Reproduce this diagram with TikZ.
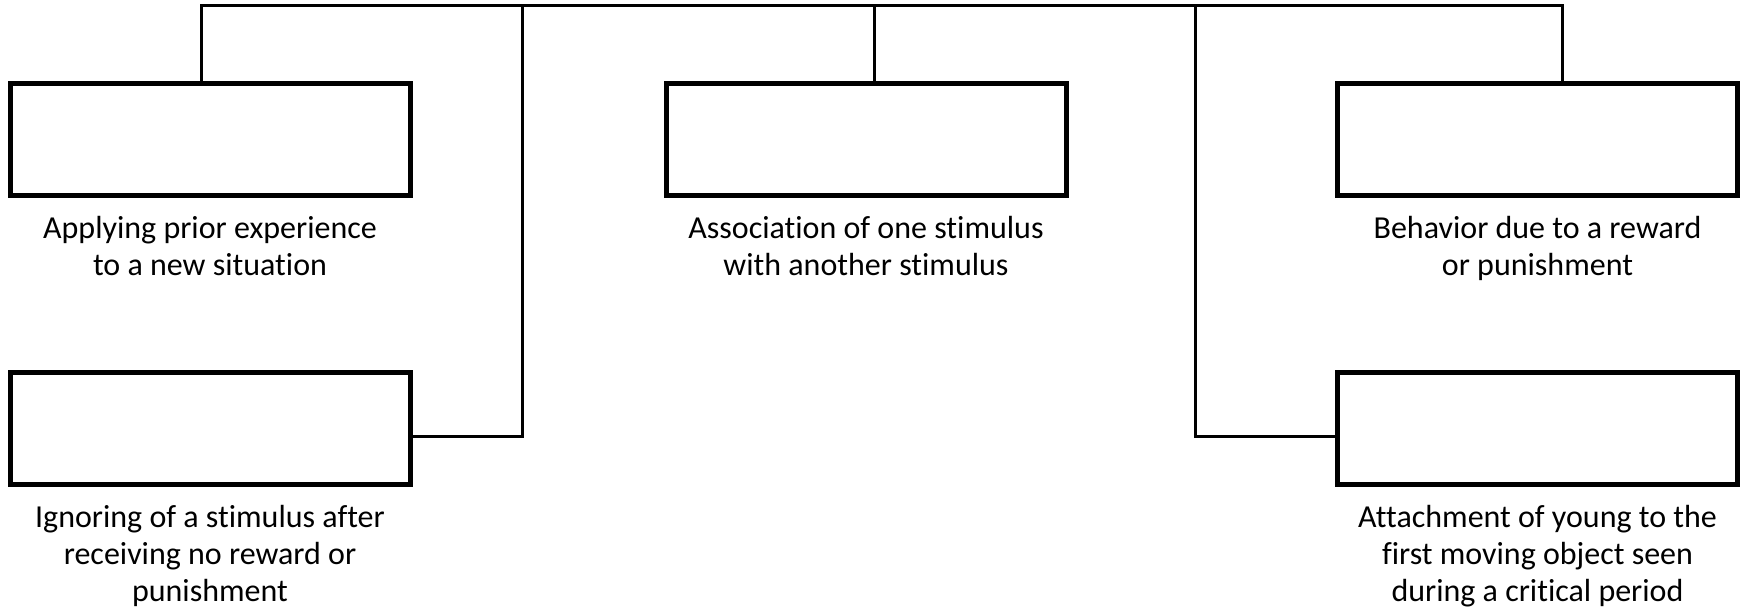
\documentclass[tikz,border=0pt]{standalone}
\usepackage{fontspec}
\setmainfont{Carlito}[Ligatures=NoCommon]
\usetikzlibrary{positioning}

\begin{document}
\begin{tikzpicture}[x=0.5pt,y=-0.5pt,
    box/.style={draw,line width=2.5pt,minimum width=200pt,minimum height=56pt,inner sep=0pt},
    link/.style={line width=1.5pt},
    note/.style={align=center,inner sep=0pt,font=\fontsize{16}{18.5}\selectfont}
   ]
\useasboundingbox (0,0) rectangle (1744,611);
\node[box] (prior)  at (210,139) {};
\node[box] (assoc)  at (866,139) {};
\node[box] (reward) at (1537.5,139) {};
\node[box] (ignore) at (210,428.5) {};
\node[box] (attach) at (1537.5,428.5) {};

\node[note,below=9pt of prior]  (priortxt)  {Applying prior experience\\to a new situation};
\node[note,below=9pt of assoc]  (assoctxt)  {Association of one stimulus\\with another stimulus};
\node[note,below=9pt of reward] (rewardtxt) {Behavior due to a reward\\or punishment};
\node[note,below=9pt of ignore] (ignoretxt) {Ignoring of a stimulus after\\receiving no reward or\\punishment};
\node[note,below=9pt of attach] (attachtxt) {Attachment of young to the\\first moving object seen\\during a critical period};

\coordinate (top1) at (201,5.5);
\coordinate (top2) at (522,5.5);
\coordinate (top3) at (874,5.5);
\coordinate (top4) at (1195,5.5);
\coordinate (top5) at (1562,5.5);
\coordinate (bend2) at (522,436);
\coordinate (bend4) at (1195,436);

\draw[link] (top1 |- prior.north) -- (top1) -- (top5) -- (top5 |- reward.north);
\draw[link] (top3) -- (top3 |- assoc.north);
\draw[link] (top2) -- (bend2) -- (bend2 -| ignore.east);
\draw[link] (top4) -- (bend4) -- (bend4 -| attach.west);
\end{tikzpicture}
\end{document}
